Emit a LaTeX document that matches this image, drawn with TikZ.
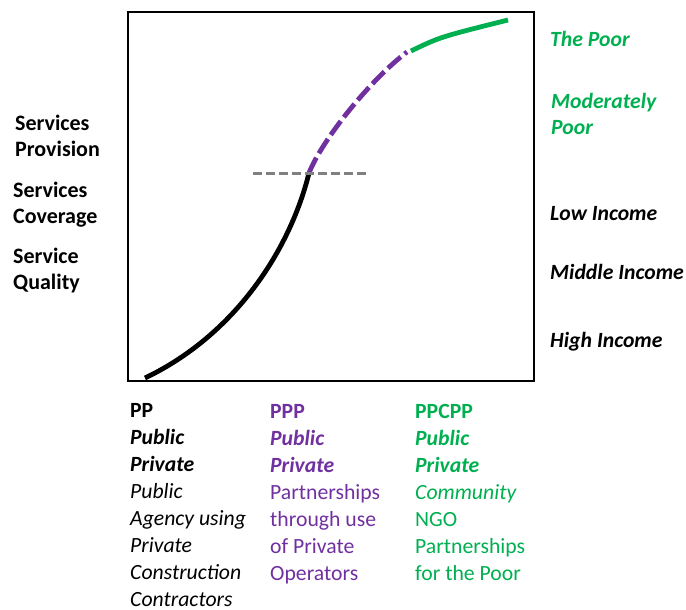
\documentclass[tikz,border=0pt]{standalone}
\usepackage{fontspec}
\setmainfont{Carlito}
\definecolor{cgreen}{RGB}{0,176,80}
\definecolor{cpurple}{RGB}{112,48,160}
\definecolor{cgray}{RGB}{128,128,128}
\begin{document}
\begin{tikzpicture}[x=1pt,y=-1pt,
  lbl/.style={inner sep=0pt,anchor=base west,align=left,font=\fontsize{22}{26}\selectfont\bfseries},
  rlbl/.style={inner sep=0pt,anchor=base west,align=left,font=\fontsize{21.7}{26}\selectfont\bfseries\itshape},
  col/.style={inner sep=0pt,anchor=base west,align=left,font=\fontsize{21.7}{27}\selectfont},
  curve/.style={line width=4.8pt,line cap=butt}]
\useasboundingbox (0,0) rectangle (686,610);
\draw[line width=2.5pt] (128,12) rectangle (534,381);
% curve
\coordinate (c0) at (145,378);
\coordinate (c1) at (309,173);
\coordinate (c2) at (407,52);
\coordinate (c3) at (411,51);
\coordinate (c4) at (508,20);
\draw[curve,black] (c0) .. controls (235,335) and (290,250) .. (c1);
\draw[curve,cpurple,dash pattern=on 17pt off 5pt] (c1) .. controls (322,140) and (370,80) .. (c2);
\draw[curve,cgreen] (c3) .. controls (440,37) .. (c4);
\coordinate (g0) at (253,173);
\coordinate (g1) at (367,173);
\draw[cgray,line width=3pt,dash pattern=on 9pt off 4pt] (g0) -- (g1);
% left labels
\node[lbl] (sp) at (15,156) {Services\\Provision};
\node[lbl] (sc) at (13,223) {Services\\Coverage};
\node[lbl] (sq) at (13,289) {Service\\Quality};
% right labels
\node[rlbl,text=cgreen] (tp) at (550,47) {The Poor};
\node[rlbl,text=cgreen] (mp) at (551,135) {Moderately\\Poor};
\node[rlbl] (li) at (550,220) {Low Income};
\node[rlbl] (mi) at (550,279) {Middle Income};
\node[rlbl] (hi) at (550,347) {High Income};
% bottom columns
\node[col] (pp) at (130,606) {\textbf{PP}\\\textbf{\textit{Public}}\\\textbf{\textit{Private}}\\\textit{Public}\\\textit{Agency using}\\\textit{Private}\\\textit{Construction}\\\textit{Contractors}};
\node[col,text=cpurple] (ppp) at (270,580) {\textbf{PPP}\\\textbf{\textit{Public}}\\\textbf{\textit{Private}}\\Partnerships\\through use\\of Private\\Operators};
\node[col,text=cgreen] (ppcpp) at (415,580) {\textbf{PPCPP}\\\textbf{\textit{Public}}\\\textbf{\textit{Private}}\\\textit{Community}\\NGO\\Partnerships\\for the Poor};
\end{tikzpicture}
\end{document}
